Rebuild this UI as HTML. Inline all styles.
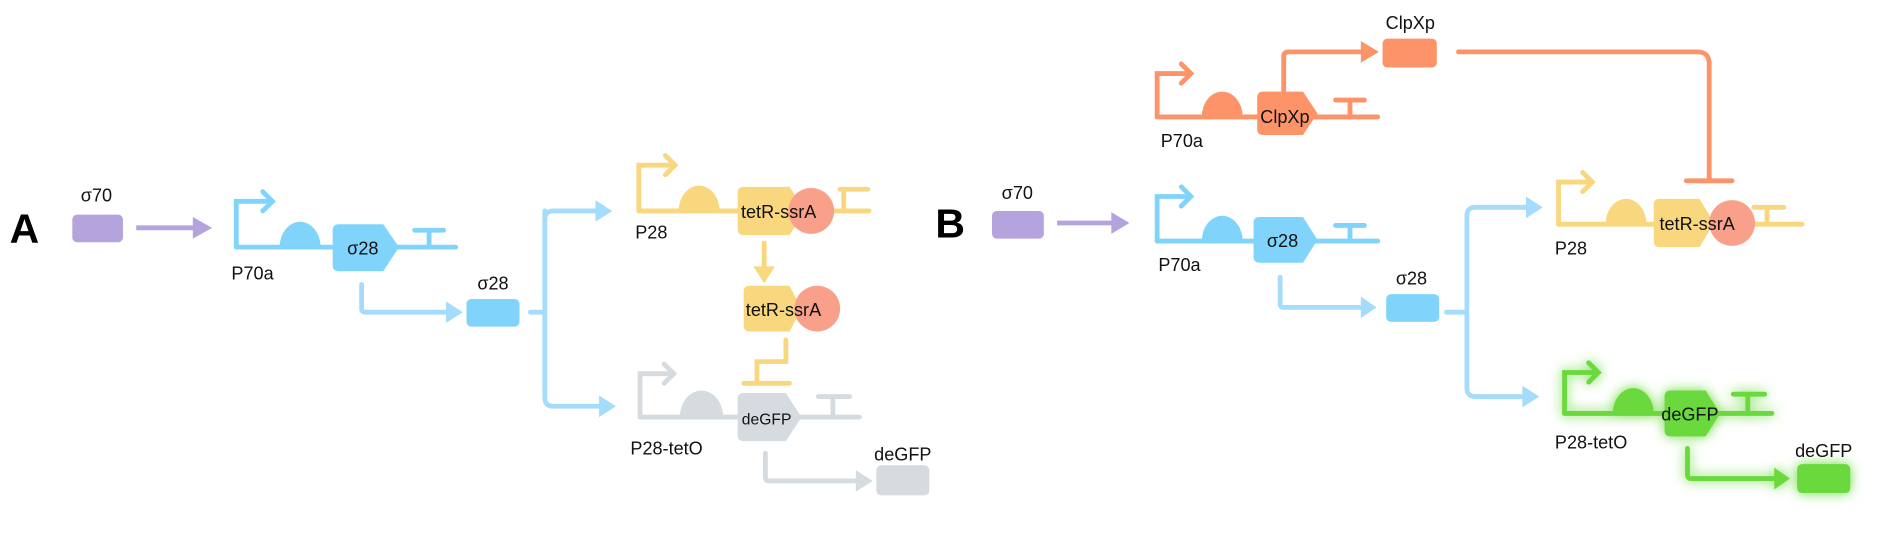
<!DOCTYPE html>
<html><head><meta charset="utf-8"><style>
html,body{margin:0;padding:0;background:#fff;}
svg{display:block;}
text{font-family:"Liberation Sans",sans-serif;fill:#111;}
</style></head><body>
<svg width="1890" height="538" viewBox="0 0 1568 446.3" xmlns="http://www.w3.org/2000/svg">
<defs>
<filter id="glow" x="-30%" y="-30%" width="160%" height="160%">
<feGaussianBlur in="SourceGraphic" stdDeviation="5" result="b"/>
<feMerge><feMergeNode in="b"/><feMergeNode in="SourceGraphic"/></feMerge>
</filter>
</defs>

<!-- ===== Panel A ===== -->
<text x="8" y="201" font-size="34" font-weight="bold" style="fill:#000">A</text>
<text x="80" y="167" font-size="15" text-anchor="middle">σ70</text>
<rect x="60" y="178" width="42" height="23" rx="4" fill="#b4a3dc"/>
<g stroke="#b4a3dc" stroke-width="4" fill="none"><line x1="113" y1="189" x2="162" y2="189"/></g>
<polygon points="160,180 176,189 160,198" fill="#b4a3dc"/>

<!-- blue gene A -->
<g stroke="#80d4fb" stroke-width="4" fill="none" stroke-linecap="round">
<path d="M196,205 V167 H222"/><path d="M218,159 L226,167 L218,175"/>
<line x1="196" y1="205" x2="378" y2="205"/>
<line x1="356" y1="205" x2="356" y2="192"/><line x1="344" y1="191" x2="368" y2="191"/>
</g>
<path d="M232,205 A17,21 0 0 1 266,205 Z" fill="#80d4fb"/>
<path d="M281,186 H318 L331,205 L318,225 H281 Q276,225 276,220 V191 Q276,186 281,186 Z" fill="#80d4fb"/>
<text x="301" y="211" font-size="15" text-anchor="middle">σ28</text>
<text x="192" y="232" font-size="15">P70a</text>

<g stroke="#a6dcfb" stroke-width="4" fill="none" stroke-linecap="round" stroke-linejoin="round">
<path d="M300,236 V256 Q300,259 303,259 H372"/>
<path d="M440,259 H452 M452,175 V330 Q452,337 459,337 H500 M452,182 Q452,175 459,175 H497"/>
</g>
<polygon points="370,250 384,259 370,268" fill="#a6dcfb"/>
<polygon points="494,166 508,175 494,184" fill="#a6dcfb"/>
<polygon points="497,328 511,337 497,346" fill="#a6dcfb"/>
<rect x="387" y="248" width="44" height="23" rx="4" fill="#80d4fb"/>
<text x="409" y="240" font-size="15" text-anchor="middle">σ28</text>

<!-- yellow gene A -->
<g stroke="#f9d77e" stroke-width="4" fill="none" stroke-linecap="round">
<path d="M530,175 V137 H556"/><path d="M552,129 L560,137 L552,145"/>
<line x1="530" y1="175" x2="721" y2="175"/>
<line x1="700" y1="175" x2="700" y2="158"/><line x1="697" y1="157" x2="720" y2="157"/>
</g>
<path d="M563,175 A17,21 0 0 1 597,175 Z" fill="#f9d77e"/>
<path d="M617,155 H655 L668,175 L655,195 H617 Q612,195 612,190 V160 Q612,155 617,155 Z" fill="#f9d77e"/>
<circle cx="673" cy="175" r="19" fill="#f9a08a"/>
<text x="646" y="181" font-size="15" text-anchor="middle">tetR-ssrA</text>
<text x="527" y="198" font-size="15">P28</text>

<line x1="634" y1="200" x2="634" y2="224" stroke="#f9d77e" stroke-width="4"/>
<polygon points="625,221 634,235 643,221" fill="#f9d77e"/>
<path d="M622,237 H655 L665,256 L655,275 H622 Q617,275 617,270 V242 Q617,237 622,237 Z" fill="#f9d77e"/>
<circle cx="678" cy="256" r="19" fill="#f9a08a"/>
<text x="650" y="262" font-size="15" text-anchor="middle">tetR-ssrA</text>
<g stroke="#f9d77e" stroke-width="4" fill="none" stroke-linecap="round">
<path d="M652,282 V300 H628 V316"/><line x1="617" y1="318" x2="655" y2="318"/>
</g>

<!-- grey gene A -->
<g stroke="#d6dbe0" stroke-width="4" fill="none" stroke-linecap="round">
<path d="M531,346 V310 H555"/><path d="M551,302 L559,310 L551,318"/>
<line x1="531" y1="346" x2="713" y2="346"/>
<line x1="691" y1="346" x2="691" y2="330"/><line x1="679" y1="329" x2="705" y2="329"/>
</g>
<path d="M564,346 A18,22 0 0 1 600,346 Z" fill="#d6dbe0"/>
<path d="M617,326 H652 L665,346 L652,366 H617 Q612,366 612,361 V331 Q612,326 617,326 Z" fill="#d6dbe0"/>
<text x="636" y="352" font-size="13" text-anchor="middle">deGFP</text>
<text x="523" y="377" font-size="15">P28-tetO</text>
<g stroke="#d6dbe0" stroke-width="4" fill="none" stroke-linecap="round">
<path d="M635,376 V396 Q635,399 638,399 H712"/>
</g>
<polygon points="710,390 724,399 710,408" fill="#d6dbe0"/>
<rect x="727" y="386" width="44" height="25" rx="4" fill="#d6dbe0"/>
<text x="749" y="382" font-size="15" text-anchor="middle">deGFP</text>

<!-- ===== Panel B ===== -->
<text x="776" y="197" font-size="34" font-weight="bold" style="fill:#000">B</text>
<text x="844" y="165" font-size="15" text-anchor="middle">σ70</text>
<rect x="823" y="175" width="43" height="23" rx="4" fill="#b4a3dc"/>
<line x1="877" y1="185" x2="925" y2="185" stroke="#b4a3dc" stroke-width="4"/>
<polygon points="922,176 937,185 922,194" fill="#b4a3dc"/>

<!-- orange gene -->
<g stroke="#fd9368" stroke-width="4" fill="none" stroke-linecap="round">
<path d="M960,97 V61 H984"/><path d="M980,53 L988,61 L980,69"/>
<line x1="960" y1="97" x2="1143" y2="97"/>
<line x1="1120" y1="97" x2="1120" y2="84"/><line x1="1108" y1="83" x2="1132" y2="83"/>
<path d="M1065,89 V47 Q1065,43 1069,43 H1132"/>
<path d="M1210,43 H1408 Q1418,43 1418,53 V148"/><line x1="1399" y1="150" x2="1437" y2="150"/>
</g>
<path d="M997,97 A17,21 0 0 1 1031,97 Z" fill="#fd9368"/>
<path d="M1048,76 H1081 L1093,94 L1081,112 H1048 Q1043,112 1043,107 V81 Q1043,76 1048,76 Z" fill="#fd9368"/>
<text x="1066" y="102" font-size="15" text-anchor="middle">ClpXp</text>
<text x="963" y="122" font-size="15">P70a</text>
<polygon points="1129,34 1144,43 1129,52" fill="#fd9368"/>
<rect x="1147" y="32" width="45" height="24" rx="4" fill="#fd9368"/>
<text x="1170" y="24" font-size="15" text-anchor="middle">ClpXp</text>

<!-- blue gene B -->
<g stroke="#80d4fb" stroke-width="4" fill="none" stroke-linecap="round">
<path d="M960,200 V163 H984"/><path d="M980,155 L988,163 L980,171"/>
<line x1="960" y1="200" x2="1143" y2="200"/>
<line x1="1120" y1="200" x2="1120" y2="188"/><line x1="1108" y1="187" x2="1132" y2="187"/>
</g>
<path d="M997,200 A17,21 0 0 1 1031,200 Z" fill="#80d4fb"/>
<path d="M1045,180 H1081 L1093,199 L1081,218 H1045 Q1040,218 1040,213 V185 Q1040,180 1045,180 Z" fill="#80d4fb"/>
<text x="1064" y="205" font-size="15" text-anchor="middle">σ28</text>
<text x="961" y="225" font-size="15">P70a</text>

<g stroke="#a6dcfb" stroke-width="4" fill="none" stroke-linecap="round" stroke-linejoin="round">
<path d="M1062,230 V252 Q1062,255 1065,255 H1132"/>
<path d="M1200,259 H1217 M1217,179 V322 Q1217,329 1224,329 H1266 M1217,179 Q1217,172 1224,172 H1268"/>
</g>
<polygon points="1129,246 1142,255 1129,264" fill="#a6dcfb"/>
<polygon points="1266,163 1280,172 1266,181" fill="#a6dcfb"/>
<polygon points="1263,320 1277,329 1263,338" fill="#a6dcfb"/>
<rect x="1150" y="244" width="44" height="23" rx="4" fill="#80d4fb"/>
<text x="1171" y="236" font-size="15" text-anchor="middle">σ28</text>

<!-- yellow gene B -->
<g stroke="#f9d77e" stroke-width="4" fill="none" stroke-linecap="round">
<path d="M1293,186 V151 H1317"/><path d="M1313,143 L1321,151 L1313,159"/>
<line x1="1293" y1="186" x2="1495" y2="186"/>
<line x1="1466" y1="186" x2="1466" y2="173"/><line x1="1455" y1="172" x2="1480" y2="172"/>
</g>
<path d="M1332,186 A17,21 0 0 1 1366,186 Z" fill="#f9d77e"/>
<path d="M1377,165 H1410 L1422,185 L1410,205 H1377 Q1372,205 1372,200 V170 Q1372,165 1377,165 Z" fill="#f9d77e"/>
<circle cx="1437" cy="185" r="19" fill="#f9a08a"/>
<text x="1408" y="191" font-size="15" text-anchor="middle">tetR-ssrA</text>
<text x="1290" y="211" font-size="15">P28</text>

<!-- green gene B -->
<g filter="url(#glow)">
<g stroke="#6ad93c" stroke-width="4" fill="none" stroke-linecap="round">
<path d="M1298,343 V309 H1322"/><path d="M1318,301 L1326,309 L1318,317"/>
<line x1="1298" y1="343" x2="1470" y2="343"/>
<line x1="1450" y1="343" x2="1450" y2="328"/><line x1="1438" y1="327" x2="1464" y2="327"/>
</g>
<path d="M1338,343 A17,21 0 0 1 1372,343 Z" fill="#6ad93c"/>
<path d="M1386,324 H1415 L1427,343 L1415,362 H1386 Q1381,362 1381,357 V329 Q1381,324 1386,324 Z" fill="#6ad93c"/>
<g stroke="#6ad93c" stroke-width="4" fill="none" stroke-linecap="round">
<path d="M1400,372 V394 Q1400,397 1403,397 H1474"/>
</g>
<polygon points="1472,388 1485,397 1472,406" fill="#6ad93c"/>
<rect x="1491" y="385" width="44" height="24" rx="4" fill="#6ad93c"/>
</g>
<text x="1402" y="349" font-size="15" text-anchor="middle">deGFP</text>
<text x="1290" y="372" font-size="15">P28-tetO</text>
<text x="1513" y="379" font-size="15" text-anchor="middle">deGFP</text>
</svg>
</body></html>
